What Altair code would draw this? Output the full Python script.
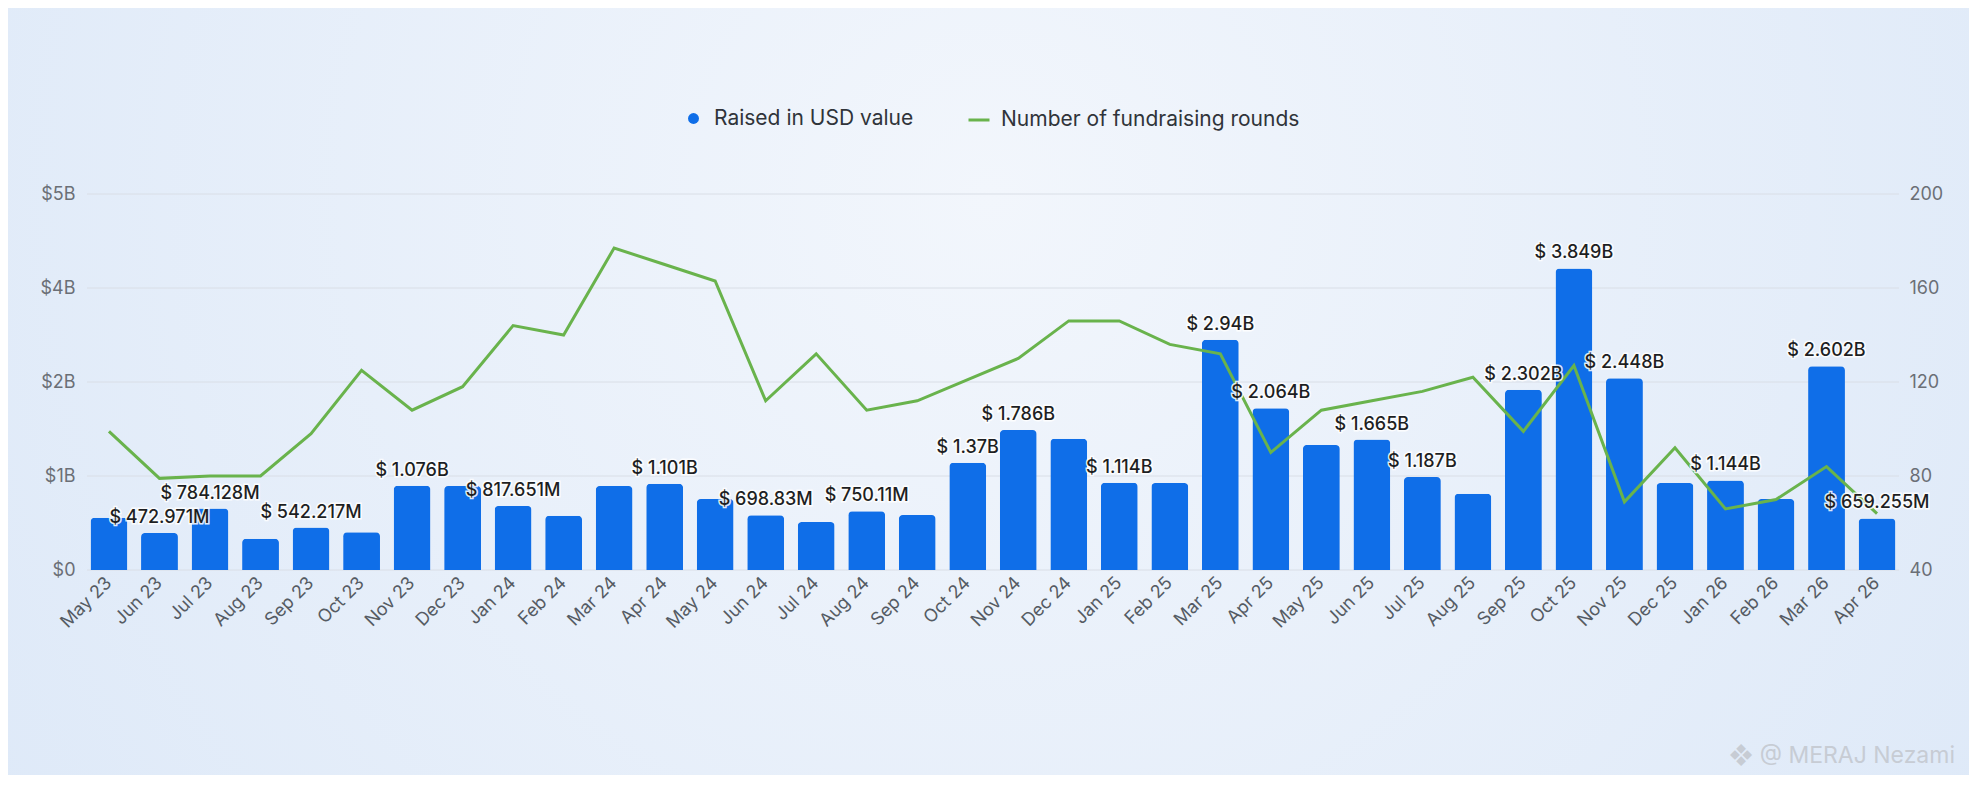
import altair as alt
import pandas as pd

# monthly fundraising: raised value (billions USD) and number of rounds
months = ["May 23", "Jun 23", "Jul 23", "Aug 23", "Sep 23", "Oct 23", "Nov 23", "Dec 23",
          "Jan 24", "Feb 24", "Mar 24", "Apr 24", "May 24", "Jun 24", "Jul 24", "Aug 24",
          "Sep 24", "Oct 24", "Nov 24", "Dec 24", "Jan 25", "Feb 25", "Mar 25", "Apr 25",
          "May 25", "Jun 25", "Jul 25", "Aug 25", "Sep 25", "Oct 25", "Nov 25", "Dec 25",
          "Jan 26", "Feb 26", "Mar 26", "Apr 26"]

raised_b = [0.668, 0.473, 0.784, 0.400, 0.542, 0.481, 1.076, 1.072,
            0.818, 0.693, 1.072, 1.101, 0.906, 0.699, 0.613, 0.750,
            0.702, 1.370, 1.786, 1.676, 1.114, 1.111, 2.940, 2.064,
            1.596, 1.665, 1.187, 0.974, 2.302, 3.849, 2.448, 1.111,
            1.144, 0.906, 2.602, 0.659]

bar_labels = ["", "$ 472.971M", "$ 784.128M", "", "$ 542.217M", "", "$ 1.076B", "",
              "$ 817.651M", "", "", "$ 1.101B", "", "$ 698.83M", "", "$ 750.11M",
              "", "$ 1.37B", "$ 1.786B", "", "$ 1.114B", "", "$ 2.94B", "$ 2.064B",
              "", "$ 1.665B", "$ 1.187B", "", "$ 2.302B", "$ 3.849B", "$ 2.448B", "",
              "$ 1.144B", "", "$ 2.602B", "$ 659.255M"]

rounds = [99, 79, 80, 80, 98, 125, 108, 118,
          144, 140, 177, 170, 163, 112, 132, 108,
          112, 121, 130, 146, 146, 136, 132, 90,
          108, 112, 116, 122, 99, 127, 69, 92,
          66, 70, 84, 64]

left_ticks = [0, 1.2, 2.4, 3.6, 4.8]
right_ticks = [40, 80, 120, 160, 200]

df = pd.DataFrame({"month": months, "usd": raised_b, "label": bar_labels,
                   "rounds": rounds,
                   "s1": "Raised in USD value",
                   "s2": "Number of fundraising rounds"})
grid_df = pd.DataFrame({"tick": left_ticks})
one = pd.DataFrame({"a": [0]})

W, H = 1812, 376
FONT = "Inter"
BLUE = "#0f6ee8"
GREEN = "#69b34c"

x_enc = alt.X("month:N", sort=months,
              scale=alt.Scale(paddingInner=0.27, paddingOuter=0.07),
              axis=alt.Axis(title=None, labelAngle=-45, labelAlign="right",
                            labelBaseline="middle", labelFontSize=18, labelFont=FONT,
                            labelColor="#555b63", labelPadding=10, zindex=1,
                            ticks=False, domain=False, grid=False))
usd_scale = alt.Scale(domain=[0, 4.8], nice=False, zero=True)

# soft radial background
bg = alt.Chart(one).mark_rect(
    fill=alt.RadialGradient(
        gradient="radial",
        stops=[alt.GradientStop(color="#f2f6fc", offset=0),
               alt.GradientStop(color="#d9e6f7", offset=1)],
        x1=0.5, y1=0.4, r1=0, x2=0.5, y2=0.4, r2=0.75)
).encode(x=alt.value(-79), x2=alt.value(W + 70),
         y=alt.value(-186), y2=alt.value(H + 205))

grid = alt.Chart(grid_df).mark_rule(color="#d9dee6", strokeWidth=1).encode(
    y=alt.Y("tick:Q", scale=usd_scale, axis=None))

bars = alt.Chart(df).mark_bar(cornerRadiusTopLeft=4, cornerRadiusTopRight=4).encode(
    x=x_enc,
    y=alt.Y("usd:Q", scale=usd_scale,
            axis=alt.Axis(title=None, values=left_ticks, grid=False, domain=False,
                          ticks=False, labelFontSize=18, labelFont=FONT,
                          labelColor="#6b6f76", labelPadding=12, zindex=1,
                          labelExpr="datum.value == 0 ? '$0' : '$' + format(datum.value, '.1r') + 'B'")),
    color=alt.Color("s1:N", scale=alt.Scale(range=[BLUE]),
                    legend=alt.Legend(title=None, orient="none", legendX=596, legendY=-86,
                                      symbolType="circle", symbolSize=120,
                                      labelFontSize=21, labelFont=FONT,
                                      labelColor="#30343a", labelOffset=10,
                                      labelLimit=600)))

line = alt.Chart(df).mark_line(strokeWidth=3).encode(
    x=x_enc,
    y=alt.Y("rounds:Q", scale=alt.Scale(domain=[40, 200], nice=False, zero=False),
            axis=alt.Axis(title=None, orient="right", values=right_ticks, grid=False,
                          domain=False, ticks=False, labelFontSize=18, labelFont=FONT,
                          labelColor="#6b6f76", labelPadding=10, zindex=1)),
    color=alt.Color("s2:N", scale=alt.Scale(range=[GREEN]),
                    legend=alt.Legend(title=None, orient="none", legendX=880, legendY=-86,
                                      symbolType="stroke", symbolSize=441,
                                      symbolStrokeWidth=3,
                                      labelFontSize=21, labelFont=FONT,
                                      labelColor="#30343a", labelOffset=10,
                                      labelLimit=600)))

lab = alt.Chart(df).transform_filter("datum.label != ''")
halo = lab.mark_text(font=FONT, fontSize=18, fontWeight=500, baseline="alphabetic",
                     dy=-10, stroke="white", strokeWidth=3, strokeOpacity=0.85,
                     fill="white").encode(
    x=x_enc, y=alt.Y("usd:Q", scale=usd_scale, axis=None), text="label:N")
text = lab.mark_text(font=FONT, fontSize=18, fontWeight=500, baseline="alphabetic",
                     dy=-10, color="#1d1f23").encode(
    x=x_enc, y=alt.Y("usd:Q", scale=usd_scale, axis=None), text="label:N")

mark = alt.Chart(one).mark_text(font=FONT, fontSize=23, align="right", baseline="middle",
                                color="#c7ccd4").encode(
    x=alt.value(W + 56), y=alt.value(H + 186), text=alt.value("❖ @ MERAJ Nezami"))

chart = (alt.layer(bg, grid, bars, line, halo, text, mark)
         .resolve_scale(y="independent", color="independent")
         .properties(width=W, height=H,
                     padding={"left": 79, "top": 186, "right": 70, "bottom": 205},
                     autosize=alt.AutoSizeParams(type="none"))
         .configure(background="#e2ecf9")
         .configure_view(strokeWidth=0))

chart.save("out.html", embed_options={"renderer": "svg", "actions": False})
